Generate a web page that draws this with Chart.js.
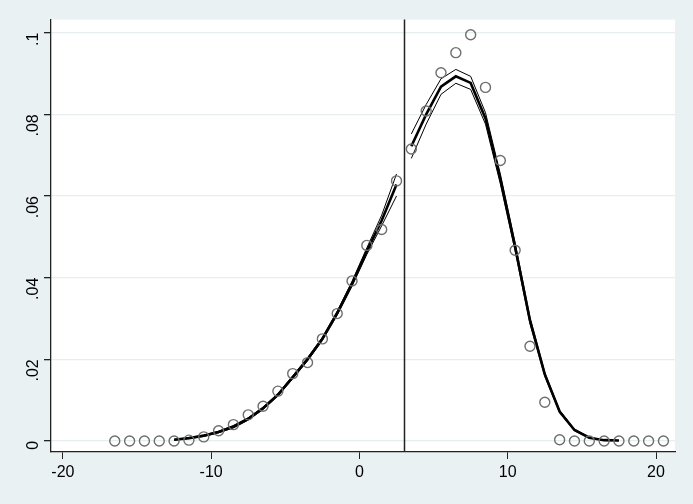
<!DOCTYPE html>
<html>
<head>
<meta charset="utf-8">
<script src="https://cdn.jsdelivr.net/npm/chart.js@4/dist/chart.umd.min.js"></script>
<style>
  body { margin: 0; background: #e9f1f3; }
  #wrap { width: 693px; height: 504px; }
</style>
</head>
<body>
<div id="wrap"><canvas id="densityChart" width="693" height="504"></canvas></div>
<script>
// histogram bins (circles)
const binX = [-16.5, -15.5, -14.5, -13.5, -12.5, -11.5, -10.5, -9.5, -8.5, -7.5, -6.5, -5.5, -4.5, -3.5, -2.5, -1.5, -0.5,
  0.5, 1.5, 2.5, 3.5, 4.5, 5.5, 6.5, 7.5, 8.5, 9.5, 10.5, 11.5, 12.5, 13.5, 14.5, 15.5, 16.5, 17.5, 18.5, 19.5, 20.5];
const binY = [0, 0, 0, 0, 0, 0.0002, 0.001, 0.0025, 0.004, 0.0064, 0.0085, 0.0122, 0.0165, 0.0192, 0.025, 0.0312, 0.0392,
  0.0479, 0.0518, 0.0637, 0.0715, 0.0808, 0.0902, 0.0951, 0.0995, 0.0866, 0.0687, 0.0467, 0.0232, 0.0095, 0.0003, 0, 0, 0, 0, 0, 0, 0];

// fitted density left of cutoff
const leftX = [-12.5, -11.5, -10.5, -9.5, -8.5, -7.5, -6.5, -5.5, -4.5, -3.5, -2.5, -1.5, -0.5, 0.5, 1.5, 2.5];
const leftFit = [0.0003, 0.0007, 0.0013, 0.0022, 0.0035, 0.0054, 0.0080, 0.0113, 0.0156, 0.0200, 0.0250, 0.0313, 0.0385, 0.0465, 0.0540, 0.0628];
const leftLo = [0.0002, 0.0006, 0.0011, 0.0020, 0.0032, 0.0051, 0.0077, 0.0110, 0.0152, 0.0196, 0.0246, 0.0308, 0.0379, 0.0457, 0.0527, 0.0600];
const leftHi = [0.0004, 0.0008, 0.0015, 0.0024, 0.0038, 0.0057, 0.0083, 0.0116, 0.0160, 0.0204, 0.0254, 0.0318, 0.0391, 0.0473, 0.0553, 0.0654];

// fitted density right of cutoff
const rightX = [3.5, 4.5, 5.5, 6.5, 7.5, 8.5, 9.5, 10.5, 11.5, 12.5, 13.5, 14.5, 15.5, 16.5, 17.5];
const rightFit = [0.0722, 0.0800, 0.0868, 0.0893, 0.0877, 0.0790, 0.0642, 0.0475, 0.0295, 0.0163, 0.0072, 0.0027, 0.0008, 0.0002, 0.0001];
const rightLo = [0.0692, 0.0776, 0.0849, 0.0876, 0.0861, 0.0776, 0.0630, 0.0465, 0.0287, 0.0158, 0.0069, 0.0025, 0.0007, 0.0002, 0.0001];
const rightHi = [0.0752, 0.0824, 0.0887, 0.0910, 0.0893, 0.0804, 0.0654, 0.0485, 0.0303, 0.0168, 0.0075, 0.0029, 0.0009, 0.0002, 0.0001];

const xTicks = [-20, -10, 0, 10, 20];
const yTicks = [0, 0.02, 0.04, 0.06, 0.08, 0.1];
const cutoff = 3;

function pts(xs, ys) {
  return xs.map((x, i) => ({ x: x, y: ys[i] }));
}

function lineSet(xs, ys, w) {
  return {
    data: pts(xs, ys), showLine: true, borderColor: '#000', borderWidth: w,
    pointRadius: 0, fill: false, tension: 0, order: 2
  };
}

// white plot region + cutoff line
const bgPlugin = {
  id: 'bgPlugin',
  beforeDraw(chart) {
    const { ctx, chartArea: a } = chart;
    ctx.save();
    ctx.fillStyle = '#e9f1f3';
    ctx.fillRect(0, 0, chart.width, chart.height);
    ctx.fillStyle = '#fff';
    ctx.fillRect(a.left, a.top, a.right - a.left, a.bottom - a.top);
    ctx.restore();
  },
  afterDatasetsDraw(chart) {
    const { ctx, chartArea: a, scales } = chart;
    const px = Math.round(scales.x.getPixelForValue(cutoff)) + 0.5;
    ctx.save();
    ctx.strokeStyle = '#222';
    ctx.lineWidth = 1.5;
    ctx.beginPath();
    ctx.moveTo(px, a.top);
    ctx.lineTo(px, a.bottom);
    ctx.stroke();
    ctx.restore();
  }
};

const ctx = document.getElementById('densityChart').getContext('2d');
new Chart(ctx, {
  type: 'scatter',
  data: {
    datasets: [
      {
        data: pts(binX, binY), pointStyle: 'circle', pointRadius: 5,
        pointBorderWidth: 1.4, pointBorderColor: '#6e6e6e', pointBackgroundColor: 'rgba(0,0,0,0)', order: 1
      },
      lineSet(leftX, leftFit, 2.6),
      lineSet(leftX, leftLo, 1),
      lineSet(leftX, leftHi, 1),
      lineSet(rightX, rightFit, 2.6),
      lineSet(rightX, rightLo, 1),
      lineSet(rightX, rightHi, 1)
    ]
  },
  options: {
    responsive: false,
    animation: false,
    layout: { padding: { left: 0, right: 18, top: 18, bottom: 0 } },
    plugins: { legend: { display: false }, tooltip: { enabled: false } },
    scales: {
      x: {
        type: 'linear', min: -20.8, max: 21.28,
        afterBuildTicks: s => { s.ticks = xTicks.map(v => ({ value: v })); },
        afterFit: s => { s.height = 52; },
        border: { display: true, color: '#222', width: 1.3 },
        grid: { display: true, drawOnChartArea: false, drawTicks: true, tickLength: 7, tickColor: '#222' },
        ticks: { color: '#000', font: { family: 'Liberation Sans', size: 16 }, padding: 4, maxRotation: 0 }
      },
      y: {
        type: 'linear', min: -0.0027, max: 0.1032,
        afterBuildTicks: s => { s.ticks = yTicks.map(v => ({ value: v })); },
        afterFit: s => { s.width = 51; },
        border: { display: true, color: '#222', width: 1.3 },
        grid: { color: '#e6eef0', lineWidth: 1.3, drawTicks: true, tickLength: 7, tickColor: '#222' },
        ticks: {
          color: '#000', font: { family: 'Liberation Sans', size: 16 }, padding: 10,
          minRotation: 90, maxRotation: 90,
          callback: v => v === 0 ? '0' : String(+v.toFixed(2)).replace(/^0/, '')
        }
      }
    }
  },
  plugins: [bgPlugin]
});
</script>
</body>
</html>
